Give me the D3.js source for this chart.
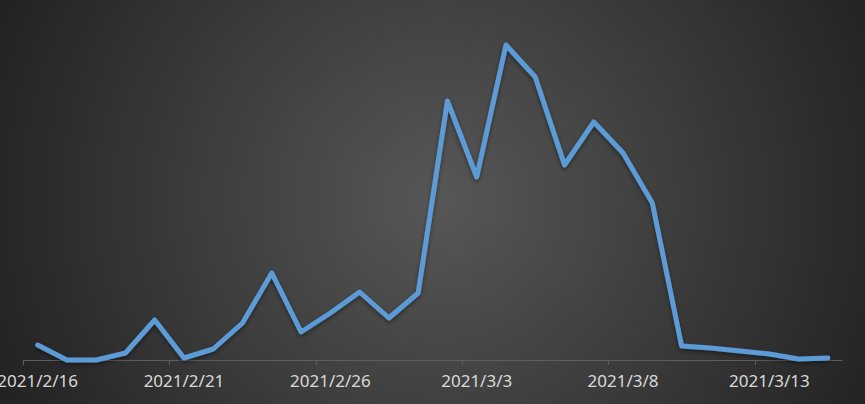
<!DOCTYPE html>
<html>
<head>
<meta charset="utf-8">
<script src="https://cdn.jsdelivr.net/npm/d3@7/dist/d3.min.js"></script>
<style>
  html, body { margin: 0; padding: 0; background: #262626; }
  svg { display: block; }
</style>
</head>
<body>
<svg id="chart" width="865" height="404"></svg>
<script>
const categories = [
  "2021/2/16","2021/2/17","2021/2/18","2021/2/19","2021/2/20","2021/2/21","2021/2/22",
  "2021/2/23","2021/2/24","2021/2/25","2021/2/26","2021/2/27","2021/2/28","2021/3/1",
  "2021/3/2","2021/3/3","2021/3/4","2021/3/5","2021/3/6","2021/3/7","2021/3/8",
  "2021/3/9","2021/3/10","2021/3/11","2021/3/12","2021/3/13","2021/3/14","2021/3/15"
];
const values = [
  15, 0, 0, 7, 40, 2, 11,
  37, 87, 28, 47, 68, 42, 67,
  259, 183, 315, 283, 195, 238, 207,
  157, 14, 12, 9, 6, 1, 2
];
const tickLabels = ["2021/2/16","2021/2/21","2021/2/26","2021/3/3","2021/3/8","2021/3/13"];

const W = 865, H = 404;
const svg = d3.select("#chart");
const defs = svg.append("defs");

const grad = defs.append("radialGradient")
  .attr("id", "bg").attr("gradientUnits", "userSpaceOnUse")
  .attr("cx", 440).attr("cy", 200).attr("r", 470);
grad.append("stop").attr("offset", "0%").attr("stop-color", "#575757");
grad.append("stop").attr("offset", "100%").attr("stop-color", "#232323");

const shadow = defs.append("filter").attr("id", "shadow")
  .attr("x", "-10%").attr("y", "-10%").attr("width", "120%").attr("height", "130%");
shadow.append("feDropShadow").attr("dx", 0).attr("dy", 2).attr("stdDeviation", 2)
  .attr("flood-color", "#000").attr("flood-opacity", 0.45);

svg.append("rect").attr("width", W).attr("height", H).attr("fill", "url(#bg)");

const x = d3.scaleBand().domain(categories).range([23, 842.6]).padding(0);
const y = d3.scaleLinear().domain([0, 320]).range([360, 40]);

// axis
const axisG = svg.append("g");
axisG.append("line")
  .attr("x1", x.range()[0]).attr("x2", x.range()[1])
  .attr("y1", y(0) + 0.5).attr("y2", y(0) + 0.5)
  .attr("stroke", "#5e5e5e").attr("stroke-width", 1);

axisG.selectAll("line.tick").data(tickLabels).join("line")
  .attr("class", "tick")
  .attr("x1", d => Math.round(x(d)) + 0.5).attr("x2", d => Math.round(x(d)) + 0.5)
  .attr("y1", y(0)).attr("y2", y(0) + 5)
  .attr("stroke", "#5e5e5e").attr("stroke-width", 1);

axisG.selectAll("text").data(tickLabels).join("text")
  .attr("x", d => x(d) + x.bandwidth() / 2)
  .attr("y", 387)
  .attr("text-anchor", "middle")
  .attr("fill", "#d9d9d9")
  .attr("font-family", "'Noto Sans', 'DejaVu Sans', sans-serif")
  .attr("font-size", 17)
  .text(d => d);

// line
const line = d3.line()
  .x((d, i) => x(categories[i]) + x.bandwidth() / 2)
  .y(d => y(d));

svg.append("path")
  .datum(values)
  .attr("d", line)
  .attr("fill", "none")
  .attr("stroke", "#5b9bd5")
  .attr("stroke-width", 5)
  .attr("stroke-linejoin", "round")
  .attr("stroke-linecap", "round")
  .attr("filter", "url(#shadow)");
</script>
</body>
</html>
